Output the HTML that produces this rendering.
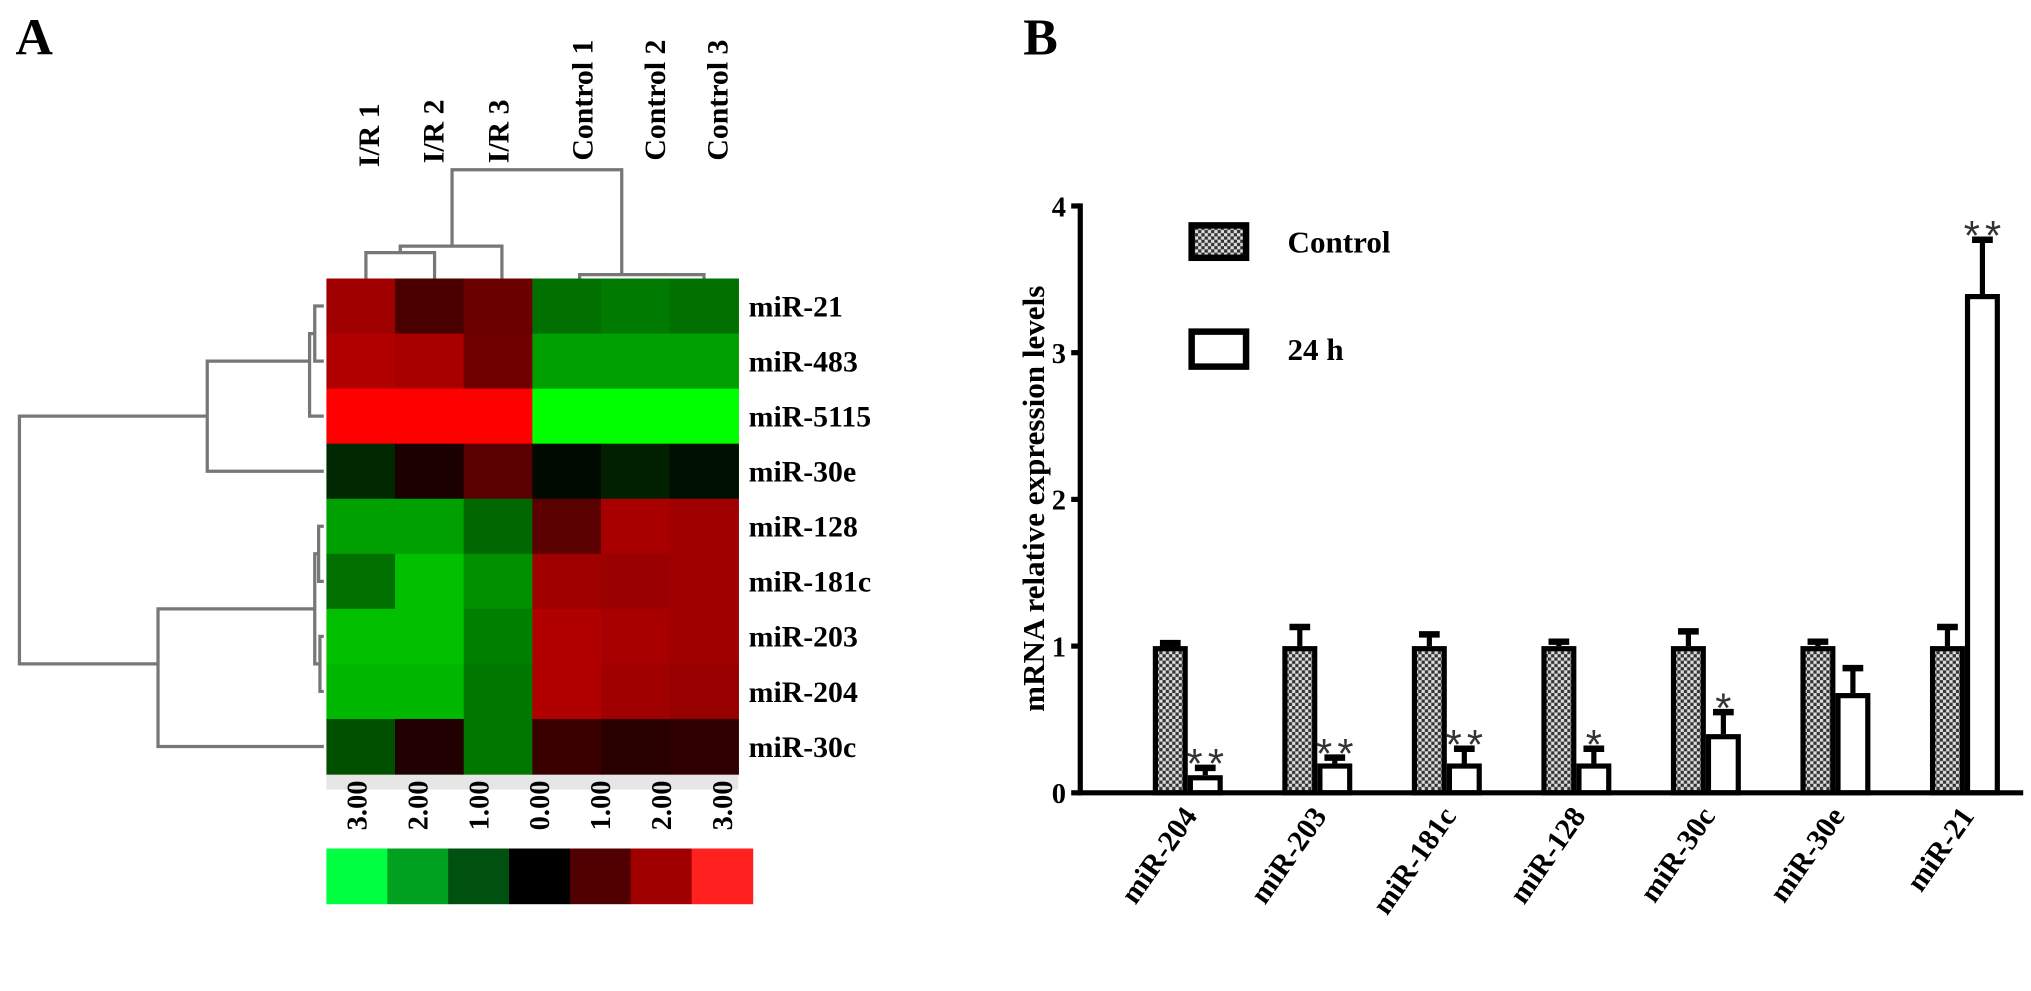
<!DOCTYPE html>
<html><head><meta charset="utf-8"><style>
html,body{margin:0;padding:0;background:#fff}
svg{display:block;font-family:"Liberation Serif",serif;font-weight:bold}
</style></head><body>
<svg id="fig" width="2031" height="991" viewBox="0 0 1568 765" preserveAspectRatio="none" xmlns="http://www.w3.org/2000/svg">
<text x="12" y="42" font-size="40">A</text>
<text x="790" y="42" font-size="40">B</text>
<g id="heat"></g>
<g id="bars"></g>
</svg>
<script>
const NS="http://www.w3.org/2000/svg";
function mk(tag,attrs,parent,txt){const e=document.createElementNS(NS,tag);for(const k in attrs)e.setAttribute(k,attrs[k]);if(txt!==undefined)e.textContent=txt;parent.appendChild(e);return e;}

// ---------- Heatmap data ----------
const heatCols=["I/R 1","I/R 2","I/R 3","Control 1","Control 2","Control 3"];
const heatRows=["miR-21","miR-483","miR-5115","miR-30e","miR-128","miR-181c","miR-203","miR-204","miR-30c"];
const heatColors=[
["#a00000","#4a0000","#6a0000","#007000","#007a00","#007000"],
["#b00000","#a80000","#700000","#00a000","#00a000","#00a000"],
["#ff0000","#ff0000","#ff0000","#00ff00","#00ff00","#00ff00"],
["#002800","#1a0000","#5a0000","#000a00","#002000","#001000"],
["#00a000","#00a000","#006800","#5a0000","#a80000","#a00000"],
["#007000","#00c000","#009000","#a00000","#9a0000","#a00000"],
["#00c000","#00c000","#008000","#b00000","#a80000","#a00000"],
["#00b800","#00b800","#007800","#b00000","#a00000","#980000"],
["#005000","#200000","#007800","#3a0000","#280000","#300000"]];
const scaleLabels=["3.00","2.00","1.00","0.00","1.00","2.00","3.00"];
const scaleColors=["#00ff40","#00a020","#005010","#000000","#500000","#a00000","#ff2020"];

const H=document.getElementById('heat');
const hx0=252,hy0=215,cw=53,rh=42.5;
const colLabelShift=[6,3,0,12,15,10];
const colLabelBottom=[129,126,126,124,124,124];
mk('rect',{x:hx0,y:hy0+heatRows.length*rh,width:cw*6,height:12,fill:'#e6e6e6'},H);
heatRows.forEach((r,i)=>{
  heatCols.forEach((c,j)=>{
    const cell=mk('rect',{x:hx0+j*cw,y:hy0+i*rh,width:cw+0.5,height:rh+0.5,fill:heatColors[i][j]},H);
    
    
  });
  const t=mk('text',{x:hx0+cw*6+8,y:hy0+i*rh+rh/2+8,'font-size':23},H,r);
  
  
});
heatCols.forEach((c,j)=>{
  const x=hx0+j*cw+cw/2+8+colLabelShift[j];
  const t=mk('text',{x:0,y:0,'font-size':23,transform:`translate(${x},${colLabelBottom[j]}) rotate(-90)`},H,c);
  
  
});
const dg=mk('g',{stroke:'#777',fill:'none','stroke-width':2.5},H);


const cx=j=>hx0+j*cw+cw/2, ry=i=>hy0+i*rh+rh/2;
[`M${cx(0)+4},${hy0} V195 H${cx(1)+4} V${hy0}`,
 `M${(cx(0)+cx(1))/2+4},195 V190 H${cx(2)+3} V${hy0}`,
 `M349,190 V131 H480 V${hy0-4}`,
 `M${cx(3)+10},${hy0} V${hy0-3} H${cx(5)} V${hy0}`,
 `M${hx0-2},${ry(0)} H243 V${ry(1)} H${hx0-2}`,
 `M243,${(ry(0)+ry(1))/2} H239 V${ry(2)} H${hx0-2}`,
 `M239,${(ry(0)+ry(2))/2} H160 V${ry(3)} H${hx0-2}`,
 `M${hx0-2},${ry(4)} H246 V${ry(5)} H${hx0-2}`,
 `M${hx0-2},${ry(6)} H247 V${ry(7)} H${hx0-2}`,
 `M246,${(ry(4)+ry(5))/2} H243 V${(ry(6)+ry(7))/2} H247`,
 `M243,${(ry(4)+ry(7))/2} H122 V${ry(8)} H${hx0-2}`,
 `M160,${(ry(1)+ry(3))/2} H15 V${(ry(5)+ry(8))/2} H122`
].forEach(d=>mk('path',{d},dg));
scaleColors.forEach((c,k)=>{
  const r=mk('rect',{x:252+k*47,y:655,width:47.5,height:43,fill:c},H);
  
  
  const t=mk('text',{x:0,y:0,'font-size':22,transform:`translate(${252+k*47+31},641) rotate(-90)`},H,scaleLabels[k]);
  
  
});

// ---------- Bar chart data ----------
const categories=["miR-204","miR-203","miR-181c","miR-128","miR-30c","miR-30e","miR-21"];
const controlVals=[1,1,1,1,1,1,1];
const controlErr=[0.02,0.13,0.08,0.03,0.1,0.03,0.13];
const h24Vals=[0.12,0.2,0.2,0.2,0.4,0.68,3.4];
const h24Err=[0.05,0.04,0.1,0.1,0.15,0.17,0.37];
const sigMarks=["**","**","**","*","*","","**"];
const yTicks=[0,1,2,3,4];

const B=document.getElementById('bars');
const ax0=834,ay0=612,ayTop=159,yMax=4,groupW=100,g0=917,bw=27;
const y=v=>ay0-(ay0-ayTop)*v/yMax;
const gx=i=>g0+i*groupW;
const defs=mk('defs',{},B);
const pat=mk('pattern',{id:'chk',width:5,height:5,patternUnits:'userSpaceOnUse'},defs);
mk('rect',{width:5,height:5,fill:'#333'},pat);
mk('rect',{x:0,y:0,width:2.5,height:2.5,fill:'#ddd'},pat);
mk('rect',{x:2.5,y:2.5,width:2.5,height:2.5,fill:'#ddd'},pat);

categories.forEach((c,i)=>{
  const x1=gx(i)-bw;
  const e1=mk('line',{x1:gx(i)-bw/2,x2:gx(i)-bw/2,y1:y(controlVals[i]),y2:y(controlVals[i]+controlErr[i]),stroke:'#000','stroke-width':4},B);
  
  
  const c1=mk('line',{x1:gx(i)-bw/2-8,x2:gx(i)-bw/2+8,y1:y(controlVals[i]+controlErr[i]),y2:y(controlVals[i]+controlErr[i]),stroke:'#000','stroke-width':5},B);
  
  
  const r1=mk('rect',{x:x1+2,y:y(controlVals[i])+2,width:bw-4,height:ay0-y(controlVals[i])-2,fill:'url(#chk)',stroke:'#000','stroke-width':4},B);
  
  
  const xm=gx(i)+bw/2;
  const e2=mk('line',{x1:xm,x2:xm,y1:y(h24Vals[i]),y2:y(h24Vals[i]+h24Err[i]),stroke:'#000','stroke-width':4},B);
  
  
  const c2=mk('line',{x1:xm-8,x2:xm+8,y1:y(h24Vals[i]+h24Err[i]),y2:y(h24Vals[i]+h24Err[i]),stroke:'#000','stroke-width':5},B);
  
  
  const r2=mk('rect',{x:gx(i)+2,y:y(h24Vals[i])+2,width:bw-4,height:ay0-y(h24Vals[i])-2,fill:'#fff',stroke:'#000','stroke-width':4},B);
  
  
  if(sigMarks[i]){
    const s=mk('text',{x:xm+2,y:y(h24Vals[i]+h24Err[i])+8,'font-size':32,'font-weight':'normal','text-anchor':'middle','font-family':'Liberation Sans, sans-serif',fill:'#333','letter-spacing':4},B,sigMarks[i]);
    
    
  }
  const t=mk('text',{x:0,y:0,'font-size':23,'text-anchor':'end',transform:`translate(${gx(i)+8},630) rotate(-55)`},B,c);
  
  
});
const ya=mk('line',{x1:ax0,x2:ax0,y1:ayTop-2,y2:ay0+2,stroke:'#000','stroke-width':4},B);


const xa=mk('line',{x1:ax0-2,x2:1562,y1:ay0,y2:ay0,stroke:'#000','stroke-width':4},B);


yTicks.forEach(v=>{
  mk('line',{x1:ax0-7,x2:ax0,y1:y(v),y2:y(v),stroke:'#000','stroke-width':4},B);
  const t=mk('text',{x:ax0-11,y:y(v)+8,'font-size':22,'text-anchor':'end'},B,String(v));
  
  
});
const yt=mk('text',{x:0,y:0,'font-size':24,'text-anchor':'middle',transform:'translate(806,385) rotate(-90)'},B,'mRNA relative expression levels');


const l1=mk('rect',{x:920,y:174,width:42,height:25,fill:'url(#chk)',stroke:'#000','stroke-width':5},B);


const lt1=mk('text',{x:994,y:195,'font-size':24},B,'Control');


const l2=mk('rect',{x:920,y:256,width:42,height:27,fill:'#fff',stroke:'#000','stroke-width':5},B);


const lt2=mk('text',{x:994,y:278,'font-size':24},B,'24 h');


</script>
</body></html>
